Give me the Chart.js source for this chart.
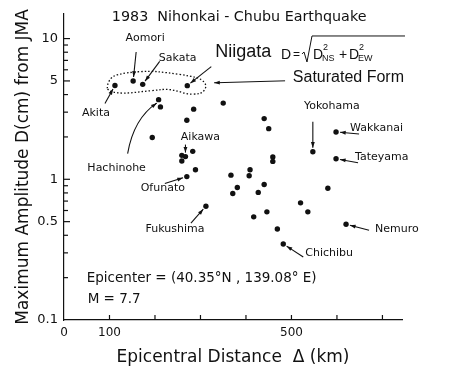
<!DOCTYPE html>
<html lang="en">
<head>
<meta charset="UTF-8">
<meta name="viewport" content="width=device-width, initial-scale=1.0">
<title>1983 Nihonkai-Chubu Earthquake</title>
<script src="https://cdn.jsdelivr.net/npm/chart.js@4.4.1/dist/chart.umd.min.js"></script>
<style>
  body { margin: 0; background: #fff; }
  #wrap { width: 461px; height: 368px; }
</style>
</head>
<body>
<div id="wrap"><canvas id="quake" width="461" height="368"></canvas></div>

<script>
// epicentral distance (km) and max amplitude (cm) per station
const distKm = [112, 152, 173, 271, 208, 212, 285, 270, 194, 350,
                283, 259, 267, 259, 289, 270, 312, 440, 450, 459,
                459, 367, 409, 407, 381, 371, 440, 427, 547, 598,
                598, 580, 520, 536, 446, 417, 469, 620, 482];
const ampCm  = [4.64, 5.0, 4.73, 4.63, 3.68, 3.27, 3.15, 2.63, 1.98, 3.48,
                1.58, 1.48, 1.45, 1.35, 1.17, 1.045, 0.644, 2.70, 2.29, 1.44,
                1.34, 1.07, 1.17, 1.06, 0.874, 0.792, 0.919, 0.807, 1.57, 2.17,
                1.40, 0.864, 0.68, 0.587, 0.587, 0.541, 0.443, 0.479, 0.347];
const stationNames = ['Akita', 'Aomori', 'Sakata', 'Niigata', 'Hachinohe', '', '', '', '', '',
                      '', '', 'Aikawa', '', '', 'Ofunato', 'Fukushima', '', '', '',
                      '', '', '', '', '', '', '', '', 'Yokohama', 'Wakkanai',
                      'Tateyama', '', '', '', '', '', '', 'Nemuro', 'Chichibu'];

const xTicks = [0, 100, 200, 300, 400, 500, 600, 700];
const xLabels = [0, 100, 500];
const yTicks = [0.1, 0.2, 0.3, 0.4, 0.5, 0.6, 0.7, 0.8, 0.9,
                1, 2, 3, 4, 5, 6, 7, 8, 9, 10];
const yLabels = [0.1, 0.5, 1, 5, 10];

// the dotted loop round the saturated records (km, cm)
const satLoop = [[94, 4.62], [105, 5.43], [138, 5.73], [189, 5.89], [226, 5.73], [277, 5.43],
                 [303, 5.15], [314, 4.62], [306, 4.14], [292, 4.03], [270, 4.03], [248, 4.26],
                 [226, 4.38], [204, 4.30], [174, 4.21], [145, 4.10], [116, 4.10], [97, 4.26]];

const INK = '#111';
const SANS = '"DejaVu Sans", sans-serif';
const LIB = '"Liberation Sans", Arial, sans-serif';

// label / arrow placement, px offsets from the station dot
const callouts = {
  Akita:     { dx: -19, dy: 28,  tx: -10, ty: 18 },
  Aomori:    { dx: 12,  dy: -43, tx: 3,   ty: -29 },
  Sakata:    { dx: 35,  dy: -26, tx: 17,  ty: -23 },
  Niigata:   { dx: 28,  dy: -34, tx: 24,  ty: -19, align: 'left', font: '18px ' + LIB },
  Hachinohe: { dx: -42, dy: 68,  tx: -31, ty: 54, cx: -25, cy: 19 },
  Aikawa:    { dx: 15,  dy: -19, tx: 0,   ty: -12 },
  Ofunato:   { dx: -24, dy: 12,  tx: -22, ty: 7 },
  Fukushima: { dx: -31, dy: 23,  tx: -15, ty: 17 },
  Yokohama:  { dx: 19,  dy: -46, tx: 0,   ty: -30 },
  Wakkanai:  { dx: 14,  dy: -4,  tx: 23,  ty: 2,  align: 'left' },
  Tateyama:  { dx: 19,  dy: -2,  tx: 22,  ty: 4,  align: 'left' },
  Nemuro:    { dx: 29,  dy: 5,   tx: 23,  ty: 6,  align: 'left' },
  Chichibu:  { dx: 22,  dy: 9,   tx: 20,  ty: 13, align: 'left' }
};

function arrow(ctx, x1, y1, x2, y2) {
  const a = Math.atan2(y2 - y1, x2 - x1);
  ctx.beginPath();
  ctx.moveTo(x1, y1);
  ctx.lineTo(x2, y2);
  ctx.stroke();
  ctx.beginPath();
  ctx.moveTo(x2, y2);
  ctx.lineTo(x2 - 6 * Math.cos(a - 0.33), y2 - 6 * Math.sin(a - 0.33));
  ctx.lineTo(x2 - 6 * Math.cos(a + 0.33), y2 - 6 * Math.sin(a + 0.33));
  ctx.closePath();
  ctx.fill();
}

function drawFormula(ctx, ax, ay) {
  const base = ay + 6;
  ctx.textAlign = 'left';
  ctx.textBaseline = 'alphabetic';
  ctx.font = '14px ' + LIB;
  ctx.fillText('D', ax, base);
  ctx.fillText('D', ax + 32, base);
  ctx.fillText('+', ax + 58, base);
  ctx.fillText('D', ax + 68, base);
  ctx.font = '12px ' + LIB;
  ctx.fillText('=', ax + 12, base - 1);
  ctx.font = '9px ' + LIB;
  ctx.fillText('2', ax + 42, base - 9);
  ctx.fillText('NS', ax + 41, base + 2);
  ctx.fillText('2', ax + 78, base - 9);
  ctx.fillText('EW', ax + 77, base + 2);
  ctx.lineWidth = 1;
  ctx.beginPath();
  ctx.moveTo(ax + 21, ay + 1);
  ctx.lineTo(ax + 23, ay - 1);
  ctx.lineTo(ax + 26, ay + 9);
  ctx.lineTo(ax + 31, ay - 17);
  ctx.lineTo(ax + 124, ay - 17);
  ctx.stroke();
}

const annotate = {
  id: 'annotate',
  afterDraw(chart) {
    const { ctx, chartArea: ca, scales: { x, y } } = chart;
    const at = (km, cm) => [x.getPixelForValue(km), y.getPixelForValue(cm)];
    ctx.save();
    ctx.strokeStyle = INK;
    ctx.fillStyle = INK;
    ctx.lineWidth = 1.2;

    // inward tick marks
    x.ticks.forEach(t => {
      if (t.value <= 0) return;
      const px = x.getPixelForValue(t.value);
      ctx.beginPath(); ctx.moveTo(px, ca.bottom); ctx.lineTo(px, ca.bottom - 5); ctx.stroke();
    });
    y.ticks.forEach(t => {
      if (t.value <= 0.1) return;
      const py = y.getPixelForValue(t.value);
      const len = yLabels.includes(t.value) ? 6 : 4;
      ctx.beginPath(); ctx.moveTo(ca.left, py); ctx.lineTo(ca.left + len, py); ctx.stroke();
    });

    // dotted loop
    const loop = satLoop.map(p => at(p[0], p[1]));
    const mid = (a, b) => [(a[0] + b[0]) / 2, (a[1] + b[1]) / 2];
    ctx.save();
    ctx.setLineDash([1.5, 2]);
    ctx.lineWidth = 1.3;
    ctx.beginPath();
    let m = mid(loop[loop.length - 1], loop[0]);
    ctx.moveTo(m[0], m[1]);
    loop.forEach((p, i) => {
      const mm = mid(p, loop[(i + 1) % loop.length]);
      ctx.quadraticCurveTo(p[0], p[1], mm[0], mm[1]);
    });
    ctx.closePath();
    ctx.stroke();
    ctx.restore();

    // station labels and arrows
    ctx.lineWidth = 1.1;
    stationNames.forEach((name, i) => {
      const c = callouts[name];
      if (!c) return;
      const [px, py] = at(distKm[i], ampCm[i]);
      ctx.font = c.font || '11px ' + SANS;
      ctx.textAlign = c.align || 'center';
      ctx.textBaseline = 'middle';
      ctx.fillText(name, px + c.dx, py + c.dy);
      const d = Math.hypot(c.tx, c.ty);
      const hx = px + c.tx / d * 4, hy = py + c.ty / d * 4;
      if (c.cx !== undefined) {
        ctx.beginPath();
        ctx.moveTo(px + c.tx, py + c.ty);
        ctx.quadraticCurveTo(px + c.cx, py + c.cy, hx, hy);
        ctx.stroke();
        arrow(ctx, hx - 4, hy + 3, hx, hy);
      } else {
        arrow(ctx, px + c.tx, py + c.ty, hx, hy);
      }
    });

    // free text
    ctx.textBaseline = 'middle';
    ctx.textAlign = 'center';
    ctx.font = '14.3px ' + SANS;
    let p = at(385, 14.2);
    ctx.fillText('1983  Nihonkai - Chubu Earthquake', p[0], p[1]);

    p = at(477, 7.9);
    drawFormula(ctx, p[0], p[1]);

    ctx.textBaseline = 'middle';
    ctx.textAlign = 'left';
    ctx.font = '16px ' + LIB;
    p = at(503, 5.26);
    ctx.fillText('Saturated Form', p[0], p[1]);
    const t = at(486, 5.01), h = at(330, 4.85);
    arrow(ctx, t[0], t[1], h[0], h[1]);

    ctx.font = '13.5px ' + SANS;
    p = at(50, 0.1965);
    ctx.fillText('Epicenter = (40.35°N , 139.08° E)', p[0], p[1]);
    p = at(52, 0.1395);
    ctx.fillText('M = 7.7', p[0], p[1]);
    ctx.restore();
  }
};

const points = distKm.map((d, i) => ({ x: d, y: ampCm[i] }));

new Chart(document.getElementById('quake'), {
  type: 'scatter',
  data: {
    datasets: [{
      data: points,
      pointRadius: 2.7,
      pointHoverRadius: 2.7,
      backgroundColor: INK,
      borderWidth: 0
    }]
  },
  options: {
    responsive: false,
    animation: false,
    events: [],
    layout: { padding: { top: 13, right: 59, left: 0, bottom: 0 } },
    plugins: { legend: { display: false }, tooltip: { enabled: false } },
    scales: {
      x: {
        type: 'linear', min: 0, max: 743,
        afterBuildTicks: s => { s.ticks = xTicks.map(v => ({ value: v })); },
        afterFit: s => { s.height = 48; },
        grid: { display: false, drawTicks: false },
        border: { display: true, color: INK, width: 1.2 },
        ticks: {
          autoSkip: false, maxRotation: 0, padding: 6, color: INK,
          font: { family: 'DejaVu Sans', size: 12 },
          callback: v => xLabels.includes(v) ? String(v) : ''
        },
        title: {
          display: true, text: 'Epicentral Distance  Δ (km)', color: INK,
          font: { family: 'DejaVu Sans', size: 17 }, padding: { top: 0, bottom: 0 }
        }
      },
      y: {
        type: 'logarithmic', min: 0.1, max: 15,
        afterBuildTicks: s => { s.ticks = yTicks.map(v => ({ value: v })); },
        afterFit: s => { s.width = 64; },
        grid: { display: false, drawTicks: false },
        border: { display: true, color: INK, width: 1.2 },
        ticks: {
          autoSkip: false, padding: 6, color: INK,
          font: { family: 'DejaVu Sans', size: 13 },
          callback: v => yLabels.includes(v) ? String(v) : ''
        },
        title: {
          display: true, text: 'Maximum Amplitude D(cm) from JMA', color: INK,
          font: { family: 'DejaVu Sans', size: 17 }, padding: { top: 13, bottom: 0 }
        }
      }
    }
  },
  plugins: [annotate]
});
</script>
</body>
</html>
